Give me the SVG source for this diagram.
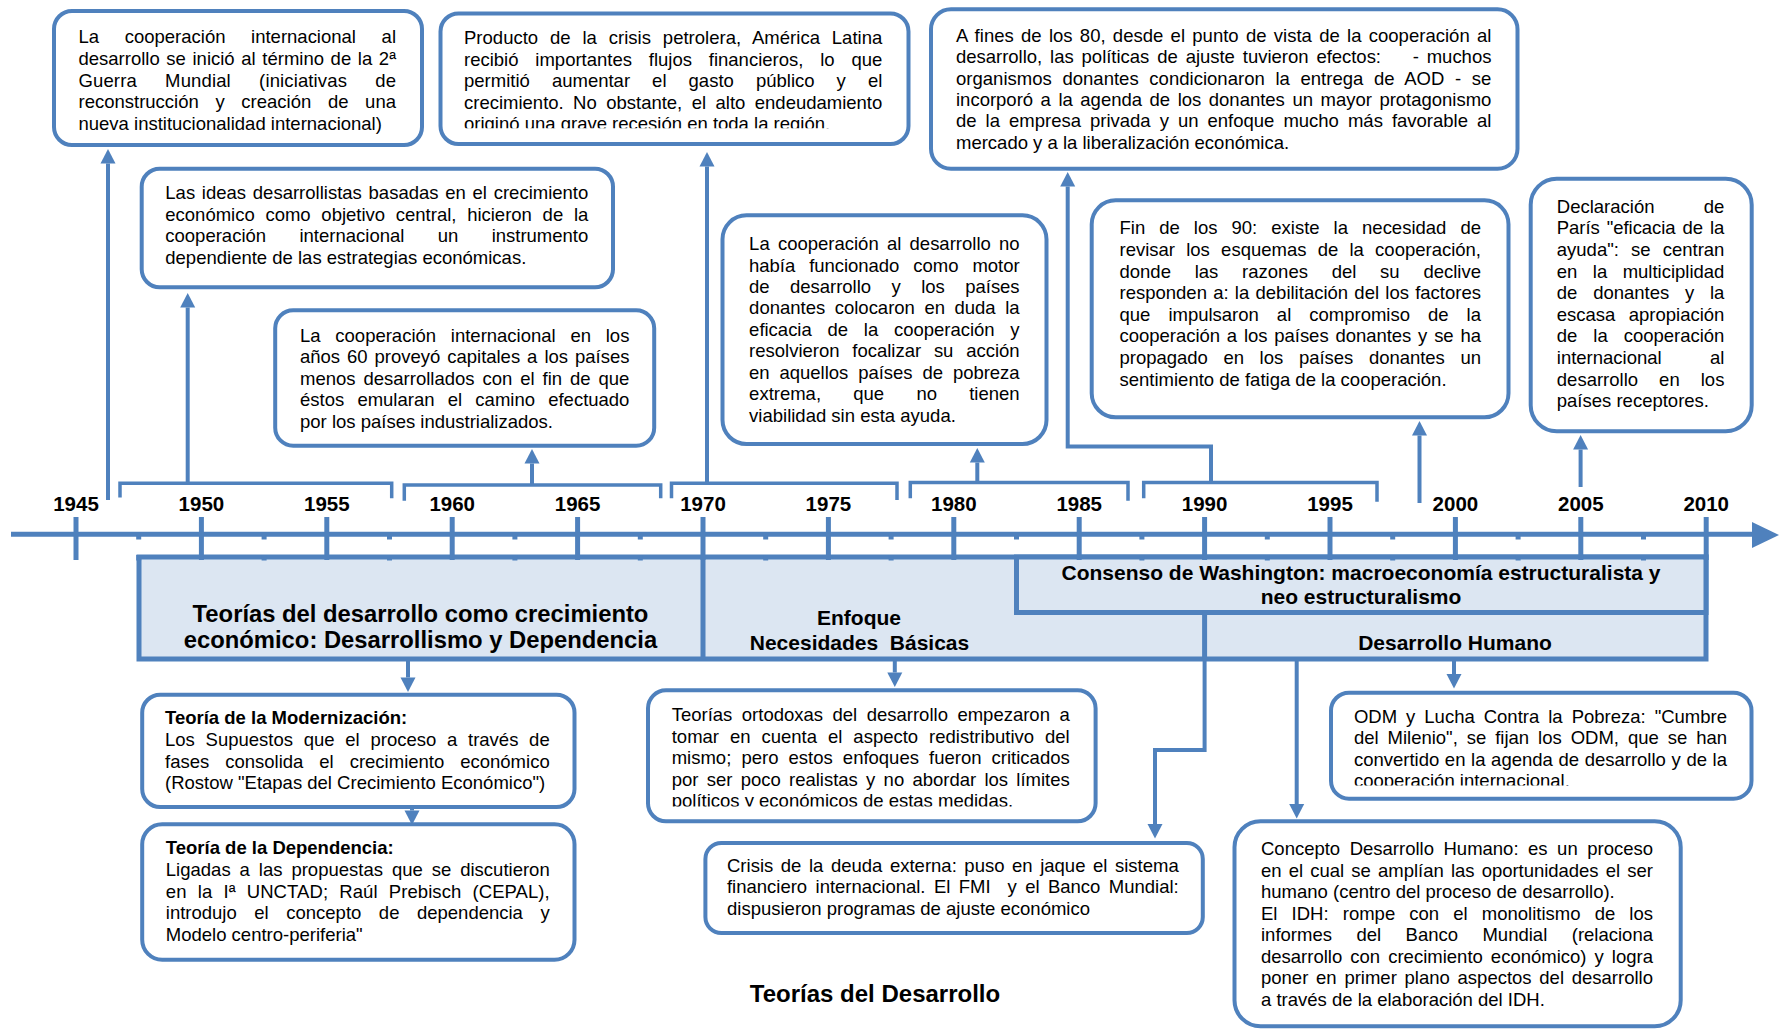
<svg xmlns="http://www.w3.org/2000/svg" width="1779" height="1031" viewBox="0 0 1779 1031">
<defs>
<style>
.t{font-family:"Liberation Sans",Arial,sans-serif;font-size:18.5px;fill:#000}
.b{font-weight:bold}
.box{fill:#fff;stroke:#4F81BD;stroke-width:4}
.band{fill:#DCE6F2;stroke:#4F81BD;stroke-width:5}
.yr{font-family:"Liberation Sans",Arial,sans-serif;font-size:20.5px;font-weight:bold;text-anchor:middle;fill:#000}
.bl{font-family:"Liberation Sans",Arial,sans-serif;font-size:21px;font-weight:bold;text-anchor:middle;fill:#000}
.ln{fill:none;stroke:#4F81BD;stroke-width:4}
.ar{fill:none;stroke:#4F81BD;stroke-width:4;marker-end:url(#ah)}
.br{fill:none;stroke:#4F81BD;stroke-width:3.5}
.tk{stroke:#4F81BD;stroke-width:5}
</style>
<marker id="ah" markerUnits="userSpaceOnUse" markerWidth="15" markerHeight="15" refX="0" refY="7.5" orient="auto" viewBox="0 0 15 15" overflow="visible"><path d="M0,0 L14.5,7.5 L0,15 z" fill="#4F81BD"/></marker>
<clipPath id="c2"><rect x="430" y="0" width="490" height="128.3"/></clipPath>
<clipPath id="c11"><rect x="640" y="680" width="470" height="126.5"/></clipPath>
<clipPath id="c13"><rect x="1320" y="680" width="440" height="105.5"/></clipPath>
</defs>
<rect x="0" y="0" width="1779" height="1031" fill="#fff"/>

<!-- timeline band -->
<g id="bands">
<rect class="band" x="139" y="557" width="1567" height="102"/>
<rect class="band" x="1016.5" y="557" width="689.5" height="55.5"/>
<line class="tk" x1="703" y1="557" x2="703" y2="659"/>
<line class="tk" x1="1204.6" y1="612.5" x2="1204.6" y2="659"/>
<text class="bl" font-size="23.8" x="420.5" y="621.7" style="font-size:23.8px">Teorías del desarrollo como crecimiento</text>
<text class="bl" x="420.5" y="648.3" style="font-size:23.8px">económico: Desarrollismo y Dependencia</text>
<text class="bl" x="859" y="625">Enfoque</text>
<text class="bl" x="859.5" y="650" xml:space="preserve">Necesidades  Básicas</text>
<text class="bl" x="1361" y="579.5">Consenso de Washington: macroeconomía estructuralista y</text>
<text class="bl" x="1361" y="603.8">neo estructuralismo</text>
<text class="bl" x="1455" y="649.5">Desarrollo Humano</text>
</g>

<!-- axis -->
<g id="axis">
<line x1="11" y1="534.2" x2="1755" y2="534.2" stroke="#4F81BD" stroke-width="5"/>
<polygon points="1752,522 1779,535 1752,548" fill="#4F81BD"/>
<g class="tk">
<line x1="76" y1="517" x2="76" y2="560"/>
<line x1="201.4" y1="517" x2="201.4" y2="560"/>
<line x1="326.8" y1="517" x2="326.8" y2="560"/>
<line x1="452.2" y1="517" x2="452.2" y2="560"/>
<line x1="577.6" y1="517" x2="577.6" y2="560"/>
<line x1="703" y1="517" x2="703" y2="560"/>
<line x1="828.4" y1="517" x2="828.4" y2="560"/>
<line x1="953.8" y1="517" x2="953.8" y2="560"/>
<line x1="1079.2" y1="517" x2="1079.2" y2="560"/>
<line x1="1204.6" y1="517" x2="1204.6" y2="560"/>
<line x1="1330" y1="517" x2="1330" y2="560"/>
<line x1="1455.4" y1="517" x2="1455.4" y2="560"/>
<line x1="1580.8" y1="517" x2="1580.8" y2="560"/>
<line x1="1706.2" y1="517" x2="1706.2" y2="560"/>
</g>
<g fill="#4F81BD">
<rect x="136.2" y="534" width="5" height="5.5"/><rect x="136.2" y="555" width="5" height="5.5"/>
<rect x="261.6" y="534" width="5" height="5.5"/><rect x="261.6" y="555" width="5" height="5.5"/>
<rect x="387" y="534" width="5" height="5.5"/><rect x="387" y="555" width="5" height="5.5"/>
<rect x="512.4" y="534" width="5" height="5.5"/><rect x="512.4" y="555" width="5" height="5.5"/>
<rect x="637.8" y="534" width="5" height="5.5"/><rect x="637.8" y="555" width="5" height="5.5"/>
<rect x="763.2" y="534" width="5" height="5.5"/><rect x="763.2" y="555" width="5" height="5.5"/>
<rect x="888.6" y="534" width="5" height="5.5"/><rect x="888.6" y="555" width="5" height="5.5"/>
<rect x="1014" y="534" width="5" height="5.5"/><rect x="1014" y="555" width="5" height="5.5"/>
<rect x="1139.4" y="534" width="5" height="5.5"/><rect x="1139.4" y="555" width="5" height="5.5"/>
<rect x="1264.8" y="534" width="5" height="5.5"/><rect x="1264.8" y="555" width="5" height="5.5"/>
<rect x="1390.2" y="534" width="5" height="5.5"/><rect x="1390.2" y="555" width="5" height="5.5"/>
<rect x="1515.6" y="534" width="5" height="5.5"/><rect x="1515.6" y="555" width="5" height="5.5"/>
<rect x="1641" y="534" width="5" height="5.5"/><rect x="1641" y="555" width="5" height="5.5"/>
</g>
<text class="yr" x="76" y="510.7">1945</text>
<text class="yr" x="201.4" y="510.7">1950</text>
<text class="yr" x="326.8" y="510.7">1955</text>
<text class="yr" x="452.2" y="510.7">1960</text>
<text class="yr" x="577.6" y="510.7">1965</text>
<text class="yr" x="703" y="510.7">1970</text>
<text class="yr" x="828.4" y="510.7">1975</text>
<text class="yr" x="953.8" y="510.7">1980</text>
<text class="yr" x="1079.2" y="510.7">1985</text>
<text class="yr" x="1204.6" y="510.7">1990</text>
<text class="yr" x="1330" y="510.7">1995</text>
<text class="yr" x="1455.4" y="510.7">2000</text>
<text class="yr" x="1580.8" y="510.7">2005</text>
<text class="yr" x="1706.2" y="510.7">2010</text>
</g>

<!-- connectors -->
<g id="connectors">
<polyline class="br" points="120,497.5 120,483.3 391.7,483.3 391.7,498.3"/>
<polyline class="br" points="404.3,500.7 404.3,485 660.7,485 660.7,498.3"/>
<polyline class="br" points="671.5,498.3 671.5,483.3 897,483.3 897,500"/>
<polyline class="br" points="910.3,498.3 910.3,482.5 1128,482.5 1128,500.7"/>
<polyline class="br" points="1143.7,498.3 1143.7,482.5 1377,482.5 1377,501.7"/>
<polyline class="ar" points="108,500 108,163.5"/>
<polyline class="ar" points="187.7,483.3 187.7,307.5"/>
<polyline class="ar" points="532,485 532,463.5"/>
<polyline class="ar" points="707,483.3 707,166.5"/>
<polyline class="ar" points="977.3,482.5 977.3,462.5"/>
<polyline class="ar" points="1211,482.5 1211,446.5 1067.7,446.5 1067.7,186.5"/>
<polyline class="ar" points="1419.5,503 1419.5,435.5"/>
<polyline class="ar" points="1580.6,487 1580.6,449.5"/>
<polyline class="ar" points="408,659 408,677.5"/>
<polyline class="ar" points="412,793 412,810.5"/>
<polyline class="ar" points="894.8,659 894.8,672.5"/>
<polyline class="ar" points="1204.6,659 1204.6,750 1155,750 1155,824"/>
<polyline class="ar" points="1454,659 1454,674"/>
<polyline class="ar" points="1296.7,659 1296.7,804"/>
</g>

<g id="box-inicio">
<rect class="box" x="54" y="11" width="368" height="134" rx="18"/>
<text class="t" x="78.5" y="43.3" textLength="317.5" lengthAdjust="spacing" word-spacing="20.5">La cooperación internacional al</text>
<text class="t" x="78.5" y="65" textLength="317.5" lengthAdjust="spacing" word-spacing="1.5">desarrollo se inició al término de la 2ª</text>
<text class="t" x="78.5" y="86.7" textLength="317.5" lengthAdjust="spacing" word-spacing="23">Guerra Mundial (iniciativas de</text>
<text class="t" x="78.5" y="108.3" textLength="317.5" lengthAdjust="spacing" word-spacing="11.5">reconstrucción y creación de una</text>
<text class="t" x="78.5" y="129.7">nueva institucionalidad internacional)</text>
</g>

<g id="box-crisis-petrolera">
<rect class="box" x="440.5" y="13.5" width="468" height="130.5" rx="18"/>
<g clip-path="url(#c2)">
<text class="t" x="464" y="44.3" textLength="418.3" lengthAdjust="spacing" word-spacing="6.7">Producto de la crisis petrolera, América Latina</text>
<text class="t" x="464" y="65.7" textLength="418.3" lengthAdjust="spacing" word-spacing="11.7">recibió importantes flujos financieros, lo que</text>
<text class="t" x="464" y="87.3" textLength="418.3" lengthAdjust="spacing" word-spacing="16.9">permitió aumentar el gasto público y el</text>
<text class="t" x="464" y="108.6" textLength="418.3" lengthAdjust="spacing" word-spacing="4.3">crecimiento. No obstante, el alto endeudamiento</text>
<text class="t" x="464" y="129.9">originó una grave recesión en toda la región.</text>
</g>
</g>

<g id="box-fines-80">
<rect class="box" x="931" y="9.3" width="586.5" height="159.4" rx="20"/>
<text class="t" x="956" y="41.7" textLength="535.4" lengthAdjust="spacing" word-spacing="2.1">A fines de los 80, desde el punto de vista de la cooperación al</text>
<text class="t" x="956" y="63.1" textLength="535.4" lengthAdjust="spacing" word-spacing="2.8" xml:space="preserve">desarrollo, las políticas de ajuste tuvieron efectos:    - muchos</text>
<text class="t" x="956" y="84.5" textLength="535.4" lengthAdjust="spacing" word-spacing="5.5">organismos donantes condicionaron la entrega de AOD - se</text>
<text class="t" x="956" y="105.9" textLength="535.4" lengthAdjust="spacing" word-spacing="2.4">incorporó a la agenda de los donantes un mayor protagonismo</text>
<text class="t" x="956" y="127.3" textLength="535.4" lengthAdjust="spacing" word-spacing="3.9">de la empresa privada y un enfoque mucho más favorable al</text>
<text class="t" x="956" y="148.7">mercado y a la liberalización económica.</text>
</g>

<g id="box-ideas-desarrollistas">
<rect class="box" x="141.7" y="168.7" width="471.3" height="118.6" rx="18"/>
<text class="t" x="165.3" y="199.3" textLength="423" lengthAdjust="spacing" word-spacing="1.6">Las ideas desarrollistas basadas en el crecimiento</text>
<text class="t" x="165.3" y="220.8" textLength="423" lengthAdjust="spacing" word-spacing="5.6">económico como objetivo central, hicieron de la</text>
<text class="t" x="165.3" y="242.3" textLength="423" lengthAdjust="spacing" word-spacing="28.2">cooperación internacional un instrumento</text>
<text class="t" x="165.3" y="263.7">dependiente de las estrategias económicas.</text>
</g>

<g id="box-anos-60">
<rect class="box" x="275.2" y="310.3" width="379" height="135.4" rx="18"/>
<text class="t" x="300" y="341.7" textLength="329.4" lengthAdjust="spacing" word-spacing="9.6">La cooperación internacional en los</text>
<text class="t" x="300" y="363.1" textLength="329.4" lengthAdjust="spacing" word-spacing="1.9">años 60 proveyó capitales a los países</text>
<text class="t" x="300" y="384.6" textLength="329.4" lengthAdjust="spacing" word-spacing="2.8">menos desarrollados con el fin de que</text>
<text class="t" x="300" y="406" textLength="329.4" lengthAdjust="spacing" word-spacing="8.1">éstos emularan el camino efectuado</text>
<text class="t" x="300" y="427.5">por los países industrializados.</text>
</g>

<g id="box-motor-desarrollo">
<rect class="box" x="722.5" y="215.3" width="324" height="228.7" rx="24"/>
<text class="t" x="749.1" y="250" textLength="270.5" lengthAdjust="spacing" word-spacing="3.1">La cooperación al desarrollo no</text>
<text class="t" x="749.1" y="271.5" textLength="270.5" lengthAdjust="spacing" word-spacing="8.9">había funcionado como motor</text>
<text class="t" x="749.1" y="292.9" textLength="270.5" lengthAdjust="spacing" word-spacing="15.4">de desarrollo y los países</text>
<text class="t" x="749.1" y="314.4" textLength="270.5" lengthAdjust="spacing" word-spacing="4.4">donantes colocaron en duda la</text>
<text class="t" x="749.1" y="335.8" textLength="270.5" lengthAdjust="spacing" word-spacing="10.6">eficacia de la cooperación y</text>
<text class="t" x="749.1" y="357.3" textLength="270.5" lengthAdjust="spacing" word-spacing="7.6">resolvieron focalizar su acción</text>
<text class="t" x="749.1" y="378.7" textLength="270.5" lengthAdjust="spacing" word-spacing="4.9">en aquellos países de pobreza</text>
<text class="t" x="749.1" y="400.2" textLength="270.5" lengthAdjust="spacing" word-spacing="27.1">extrema, que no tienen</text>
<text class="t" x="749.1" y="421.6">viabilidad sin esta ayuda.</text>
</g>

<g id="box-fin-90">
<rect class="box" x="1091.7" y="200.3" width="416.8" height="217" rx="24"/>
<text class="t" x="1119.5" y="234.3" textLength="361.5" lengthAdjust="spacing" word-spacing="8.9">Fin de los 90: existe la necesidad de</text>
<text class="t" x="1119.5" y="255.9" textLength="361.5" lengthAdjust="spacing" word-spacing="6.1">revisar los esquemas de la cooperación,</text>
<text class="t" x="1119.5" y="277.5" textLength="361.5" lengthAdjust="spacing" word-spacing="18.6">donde las razones del su declive</text>
<text class="t" x="1119.5" y="299.1" textLength="361.5" lengthAdjust="spacing" word-spacing="1.1">responden a: la debilitación del los factores</text>
<text class="t" x="1119.5" y="320.7" textLength="361.5" lengthAdjust="spacing" word-spacing="12.9">que impulsaron al compromiso de la</text>
<text class="t" x="1119.5" y="342.3" textLength="361.5" lengthAdjust="spacing" word-spacing="1.7">cooperación a los países donantes y se ha</text>
<text class="t" x="1119.5" y="363.9" textLength="361.5" lengthAdjust="spacing" word-spacing="10.6">propagado en los países donantes un</text>
<text class="t" x="1119.5" y="385.5">sentimiento de fatiga de la cooperación.</text>
</g>

<g id="box-paris">
<rect class="box" x="1530.7" y="178.7" width="221" height="252.6" rx="26"/>
<text class="t" x="1556.8" y="212.7" textLength="167.6" lengthAdjust="spacing" word-spacing="44.2">Declaración de</text>
<text class="t" x="1556.8" y="234.3" textLength="167.6" lengthAdjust="spacing" word-spacing="1.9">París "eficacia de la</text>
<text class="t" x="1556.8" y="255.9" textLength="167.6" lengthAdjust="spacing" word-spacing="7">ayuda": se centran</text>
<text class="t" x="1556.8" y="277.5" textLength="167.6" lengthAdjust="spacing" word-spacing="10.3">en la multiciplidad</text>
<text class="t" x="1556.8" y="299.1" textLength="167.6" lengthAdjust="spacing" word-spacing="10.6">de donantes y la</text>
<text class="t" x="1556.8" y="320.7" textLength="167.6" lengthAdjust="spacing" word-spacing="8.2">escasa apropiación</text>
<text class="t" x="1556.8" y="342.3" textLength="167.6" lengthAdjust="spacing" word-spacing="10.8">de la cooperación</text>
<text class="t" x="1556.8" y="363.9" textLength="167.6" lengthAdjust="spacing" word-spacing="43.2">internacional al</text>
<text class="t" x="1556.8" y="385.5" textLength="167.6" lengthAdjust="spacing" word-spacing="15.9">desarrollo en los</text>
<text class="t" x="1556.8" y="407.1">países receptores.</text>
</g>

<g id="box-modernizacion">
<rect class="box" x="142.2" y="694.7" width="432.3" height="112.3" rx="18"/>
<text class="t b" x="165" y="724.3">Teoría de la Modernización:</text>
<text class="t" x="165" y="746" textLength="384.7" lengthAdjust="spacing" word-spacing="5.6">Los Supuestos que el proceso a través de</text>
<text class="t" x="165" y="767.7" textLength="384.7" lengthAdjust="spacing" word-spacing="10.8">fases consolida el crecimiento económico</text>
<text class="t" x="165" y="789.4">(Rostow "Etapas del Crecimiento Económico")</text>
</g>

<g id="box-dependencia">
<rect class="box" x="142.2" y="824.3" width="432.3" height="135.4" rx="20"/>
<text class="t b" x="165.8" y="854.3">Teoría de la Dependencia:</text>
<text class="t" x="165.8" y="876" textLength="383.9" lengthAdjust="spacing" word-spacing="3.8">Ligadas a las propuestas que se discutieron</text>
<text class="t" x="165.8" y="897.7" textLength="383.9" lengthAdjust="spacing" word-spacing="6">en la Iª UNCTAD; Raúl Prebisch (CEPAL),</text>
<text class="t" x="165.8" y="919.4" textLength="383.9" lengthAdjust="spacing" word-spacing="12.4">introdujo el concepto de dependencia y</text>
<text class="t" x="165.8" y="941.1">Modelo centro-periferia"</text>
</g>

<g id="box-ortodoxas">
<rect class="box" x="648" y="690.3" width="447.6" height="131" rx="18"/>
<g clip-path="url(#c11)">
<text class="t" x="671.7" y="721" textLength="398" lengthAdjust="spacing" word-spacing="4.3">Teorías ortodoxas del desarrollo empezaron a</text>
<text class="t" x="671.7" y="742.5" textLength="398" lengthAdjust="spacing" word-spacing="5.8">tomar en cuenta el aspecto redistributivo del</text>
<text class="t" x="671.7" y="764" textLength="398" lengthAdjust="spacing" word-spacing="5">mismo; pero estos enfoques fueron criticados</text>
<text class="t" x="671.7" y="785.5" textLength="398" lengthAdjust="spacing" word-spacing="3.2">por ser poco realistas y no abordar los límites</text>
<text class="t" x="671.7" y="807">políticos y económicos de estas medidas.</text>
</g>
</g>

<g id="box-deuda-externa">
<rect class="box" x="705.4" y="843" width="497.4" height="90" rx="16"/>
<text class="t" x="727" y="871.7" textLength="451.7" lengthAdjust="spacing" word-spacing="2.4">Crisis de la deuda externa: puso en jaque el sistema</text>
<text class="t" x="727" y="893.2" textLength="451.7" lengthAdjust="spacing" word-spacing="3.3" xml:space="preserve">financiero internacional. El FMI  y el Banco Mundial:</text>
<text class="t" x="727" y="914.7">dispusieron programas de ajuste económico</text>
</g>

<g id="box-odm">
<rect class="box" x="1331" y="692.7" width="420.5" height="106" rx="18"/>
<g clip-path="url(#c13)">
<text class="t" x="1353.9" y="722.7" textLength="373.1" lengthAdjust="spacing" word-spacing="3.9">ODM y Lucha Contra la Pobreza: "Cumbre</text>
<text class="t" x="1353.9" y="744.2" textLength="373.1" lengthAdjust="spacing" word-spacing="3.8">del Milenio", se fijan los ODM, que se han</text>
<text class="t" x="1353.9" y="765.7" textLength="373.1" lengthAdjust="spacing" word-spacing="0.5">convertido en la agenda de desarrollo y de la</text>
<text class="t" x="1353.9" y="787.2">cooperación internacional.</text>
</g>
</g>

<g id="box-desarrollo-humano">
<rect class="box" x="1234.5" y="821.3" width="446.2" height="205" rx="26"/>
<text class="t" x="1261" y="855" textLength="392" lengthAdjust="spacing" word-spacing="4.4">Concepto Desarrollo Humano: es un proceso</text>
<text class="t" x="1261" y="876.5" textLength="392" lengthAdjust="spacing" word-spacing="2.1">en el cual se amplían las oportunidades el ser</text>
<text class="t" x="1261" y="898">humano (centro del proceso de desarrollo).</text>
<text class="t" x="1261" y="919.5" textLength="392" lengthAdjust="spacing" word-spacing="9">El IDH: rompe con el monolitismo de los</text>
<text class="t" x="1261" y="941" textLength="392" lengthAdjust="spacing" word-spacing="19.3">informes del Banco Mundial (relaciona</text>
<text class="t" x="1261" y="962.5" textLength="392" lengthAdjust="spacing" word-spacing="2.9">desarrollo con crecimiento económico) y logra</text>
<text class="t" x="1261" y="984" textLength="392" lengthAdjust="spacing" word-spacing="2.6">poner en primer plano aspectos del desarrollo</text>
<text class="t" x="1261" y="1005.5">a través de la elaboración del IDH.</text>
</g>

<g id="title">
<text class="bl" x="875" y="1001.5" style="font-size:24px">Teorías del Desarrollo</text>
</g>
</svg>
